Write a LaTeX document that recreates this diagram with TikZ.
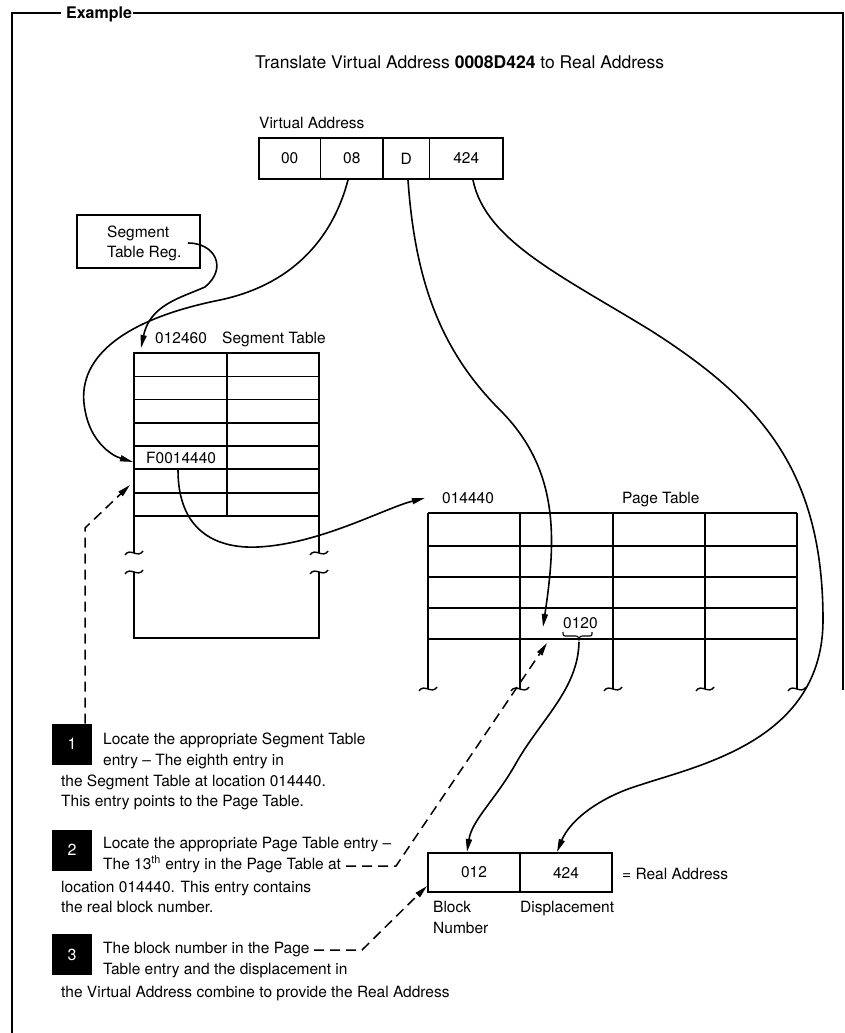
\documentclass[tikz,border=0pt]{standalone}
\usepackage{fontspec}
\setmainfont{TeX Gyre Heros}
\usetikzlibrary{arrows.meta}
\begin{document}
\begin{tikzpicture}[x=1pt,y=-1pt,
  frameline/.style={line width=1.6pt},
  thickline/.style={line width=2.4pt},
  thinline/.style={line width=1.4pt},
  vline/.style={line width=1.9pt},
  conn/.style={line width=1.6pt,-{Triangle[length=13pt,width=6pt]}},
  dconn/.style={line width=1.5pt,dash pattern=on 10pt off 6pt,-{Triangle[length=13pt,width=6pt]}},
  txt/.style={anchor=base west,inner sep=0pt,font=\fontsize{15.5}{18}\selectfont},
  ctxt/.style={inner sep=0pt,font=\fontsize{15.5}{18}\selectfont},
  numbox/.style={fill=black,minimum width=40pt,minimum height=41pt,inner sep=0pt,text=white,font=\fontsize{16}{18}\selectfont},
  brk/.pic={\draw[line width=1.4pt] (-9,2) .. controls (-4,-6) and (4,6) .. (9,-2);}
]
\fill[white] (0,0) rectangle (845,1033);
\useasboundingbox (0,0) rectangle (845,1033);

% frame
\node[anchor=base west,inner sep=0pt,font=\fontsize{16}{18}\selectfont\bfseries] (example) at (66,19) {Example};
\draw[frameline] (12,1033) -- (12,13) -- (61,13);
\draw[frameline] (133,13) -- (843,13) -- (843,690);

% title
\node[anchor=base west,inner sep=0pt,font=\fontsize{17.5}{20}\selectfont] (title) at (255,69) {Translate Virtual Address \textbf{0008D424} to Real Address};

% virtual address
\node[txt] (valbl) at (259,128) {Virtual Address};
\draw[thickline] (258.7,138) rectangle (503,179);
\draw[thinline] (320.7,138) -- (320.7,179) (383,138) -- (383,179) (429.7,138) -- (429.7,179);
\node[ctxt] (va00) at (289.7,158.5) {00};
\node[ctxt] (va08) at (351.8,158.5) {08};
\node[ctxt] (vad) at (406.3,158.5) {D};
\node[ctxt] (va424) at (466.3,158.5) {424};
\coordinate (va08b) at (348,180);
\coordinate (vadb) at (408,180);
\coordinate (va424b) at (473,180);

% segment table register
\draw[thickline] (77,215) rectangle (200,268);
\node[txt] (str1) at (107,237) {Segment};
\node[txt] (str2) at (107,257) {Table Reg.};
\coordinate (strout) at (188,243);

% segment table
\node[txt] (stadr) at (155,343) {012460};
\node[txt] (stlbl) at (222,343) {Segment Table};
\draw[thickline] (134,553) -- (134,353) -- (319,353) -- (319,553);
\draw[thickline] (134,572) -- (134,638) -- (319,638) -- (319,572);
\foreach \yy in {376.3,399.6,423,446,469,493,516} {\draw[thinline] (134,\yy) -- (319,\yy);}
\draw[thinline] (227,353) -- (227,516);
\pic at (134,553) {brk};
\pic at (134,572) {brk};
\pic at (319,553) {brk};
\pic at (319,572) {brk};
\node[txt] (fentry) at (146,463) {F0014440};
\coordinate (stcorner) at (141,348);
\coordinate (stentry8) at (133,462);
\coordinate (fout) at (178,470);
\coordinate (stentry9) at (130,485);

% page table
\node[txt] (ptadr) at (442,503) {014440};
\node[txt] (ptlbl) at (622,503) {Page Table};
\draw[thickline] (428,513) -- (797,513);
\foreach \xx in {428,520,613,705,797} {\draw[vline] (\xx,513) -- (\xx,689); \pic at (\xx,689) {brk};}
\foreach \yy in {546,577,608,639} {\draw[thinline] (428,\yy) -- (797,\yy);}
\node[txt] (pentry) at (563,628) {0120};
\draw[line width=1.1pt] (563,632) .. controls (563,636) .. (568,636) -- (574,636) .. controls (578,636) .. (579,640) .. controls (580,636) .. (584,636) -- (588,636) .. controls (592,636) .. (592,632);
\coordinate (ptin) at (425,498);
\coordinate (ptentry) at (543,627);
\coordinate (pout) at (579,642);
\coordinate (ptentry13) at (547,643);

% real address
\draw[thickline] (428,853) rectangle (612,892);
\draw[thinline] (520,853) -- (520,892);
\node[ctxt] (ra012) at (474,872.5) {012};
\node[ctxt] (ra424) at (566,872.5) {424};
\node[txt] (ralbl) at (622,879) {= Real Address};
\node[txt] (blk1) at (433,912) {Block};
\node[txt] (blk2) at (433,933) {Number};
\node[txt] (disp) at (520,912) {Displacement};
\coordinate (ra012t) at (467,852);
\coordinate (ra424t) at (557,852);
\coordinate (rain) at (427,886);

% steps
\node[numbox] (n1) at (72,744) {1};
\node[numbox] (n2) at (72,850) {2};
\node[numbox] (n3) at (72,954.5) {3};
\node[txt] (t1a) at (103,744) {Locate the appropriate Segment Table};
\node[txt] (t1b) at (103,765) {entry \textendash{} The eighth entry in};
\node[txt] (t1c) at (61,786) {the Segment Table at location 014440.};
\node[txt] (t1d) at (61,806) {This entry points to the Page Table.};
\node[txt] (t2a) at (103,848) {Locate the appropriate Page Table entry \textendash};
\node[txt] (t2b) at (103,869) {The 13\textsuperscript{th} entry in the Page Table at};
\node[txt] (t2c) at (61,892) {location 014440. This entry contains};
\node[txt] (t2d) at (61,912) {the real block number.};
\node[txt] (t3a) at (103,953) {The block number in the Page};
\node[txt] (t3b) at (103,974) {Table entry and the displacement in};
\node[txt] (t3c) at (61,997) {the Virtual Address combine to provide the Real Address};
\coordinate (d1s) at (85,723.5);
\coordinate (d1c) at (85,528);
\coordinate (d2s) at (346,866);
\coordinate (d2c) at (396,866);
\coordinate (d3s) at (314,950);
\coordinate (d3c) at (362,950);

% connectors
\draw[conn] (strout) .. controls (215,243) and (228,268) .. (205,287) .. controls (180,298) and (150,305) .. (stcorner);
\draw[conn] (va08b) .. controls (335,230) and (300,283) .. (220,300) .. controls (120,320) and (75,360) .. (85,410) .. controls (90,440) and (110,455) .. (stentry8);
\draw[conn] (fout) .. controls (178,530) and (215,549) .. (258,547) .. controls (320,544) and (385,508) .. (ptin);
\draw[conn] (vadb) .. controls (415,280) and (440,350) .. (500,410) .. controls (560,470) and (556,540) .. (ptentry);
\draw[conn] (pout) .. controls (578,690) and (540,720) .. (515,765) .. controls (495,800) and (472,820) .. (ra012t);
\draw[conn] (va424b) .. controls (485,240) and (560,275) .. (650,330) .. controls (760,400) and (823,470) .. (823,620) .. controls (823,740) and (700,765) .. (640,785) .. controls (600,797) and (570,820) .. (ra424t);
\draw[dconn] (d1s) -- (d1c) -- (stentry9);
\draw[dconn] (d2s) -- (d2c) -- (ptentry13);
\draw[dconn] (d3s) -- (d3c) -- (rain);
\end{tikzpicture}
\end{document}
